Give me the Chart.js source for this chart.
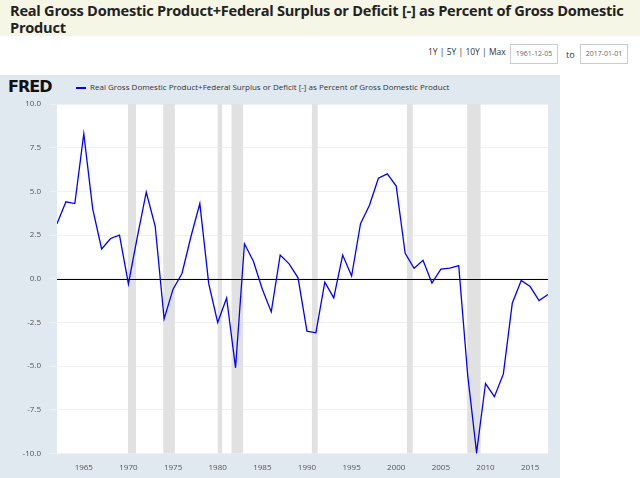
<!DOCTYPE html>
<html><head><meta charset="utf-8">
<script src="https://cdn.jsdelivr.net/npm/chart.js@4"></script>
<style>
body{margin:0;width:640px;height:478px;overflow:hidden;font-family:"Open Sans",sans-serif;background:#fff;position:relative}
#head{position:absolute;left:0;top:0;width:640px;height:36px;background:#f6f6e6}
#title{position:absolute;left:10px;top:2px;width:630px;font-size:14.6px;font-weight:bold;line-height:17px;color:#222;letter-spacing:-0.25px}
#ctl{position:absolute;top:46px;left:428px;font-size:8.5px;color:#333}
.date{position:absolute;top:44px;width:46px;height:18px;border:1px solid #ccc;font-size:7px;color:#666;text-align:center;line-height:18px}
#box{position:absolute;left:0;top:75px;width:560px;height:403px;background:#e1e9f0}
#logo{position:absolute;left:8px;top:77px;font:900 16px "DejaVu Sans",sans-serif;color:#111;letter-spacing:-1px}
#leg{position:absolute;left:76px;top:81px;font-size:8px;color:#333}
#leg span{display:inline-block;width:10px;border-top:2px solid #00f;vertical-align:middle;margin-right:4px}
canvas{position:absolute;left:0;top:75px}
</style></head><body>
<div id="head"><div id="title">Real Gross Domestic Product+Federal Surplus or Deficit [-] as Percent of Gross Domestic Product</div></div>
<div id="ctl">1Y | 5Y | 10Y | Max</div>
<div class="date" style="left:510px">1961-12-05</div>
<div style="position:absolute;left:566px;top:48px;font-size:9px;color:#333">to</div>
<div class="date" style="left:580px">2017-01-01</div>
<div id="box"></div>
<div id="logo">FRED</div>
<div id="leg"><span></span>Real Gross Domestic Product+Federal Surplus or Deficit [-] as Percent of Gross Domestic Product</div>
<canvas id="c" width="560" height="403"></canvas>
<script>
const years = [1962,1963,1964,1965,1966,1967,1968,1969,1970,1971,1972,1973,1974,1975,1976,1977,1978,1979,1980,1981,1982,1983,1984,1985,1986,1987,1988,1989,1990,1991,1992,1993,1994,1995,1996,1997,1998,1999,2000,2001,2002,2003,2004,2005,2006,2007,2008,2009,2010,2011,2012,2013,2014,2015,2016,2017];
const values = [3.15,4.4,4.3,8.3,4.0,1.7,2.3,2.5,-0.3,2.4,4.95,3.0,-2.3,-0.6,0.3,2.4,4.3,-0.3,-2.5,-1.1,-5.1,2.0,1.0,-0.6,-1.9,1.35,0.85,0.05,-3.0,-3.1,-0.2,-1.1,1.35,0.15,3.15,4.2,5.75,6.0,5.3,1.45,0.6,1.05,-0.25,0.55,0.6,0.75,-5.5,-9.95,-6.0,-6.75,-5.45,-1.4,-0.1,-0.45,-1.25,-0.9];
const recStart = [1969.95,1973.9,1980.0,1981.55,1990.55,2001.2,2007.95];
const recEnd = [1970.85,1975.2,1980.5,1982.85,1991.2,2001.85,2009.45];
const yTicks = [-10,-7.5,-5,-2.5,0,2.5,5,7.5,10];

const bg = {id:'bg',beforeDatasetsDraw(ch){
  const {ctx,chartArea:a,scales:{x,y}}=ch;
  ctx.save();
  ctx.fillStyle='#e1e1e1';
  recStart.forEach((s,i)=>{const x0=x.getPixelForValue(s),x1=x.getPixelForValue(recEnd[i]);ctx.fillRect(x0,a.top,x1-x0,a.bottom-a.top);});
  ctx.strokeStyle='#000';ctx.lineWidth=1;
  const z=Math.round(y.getPixelForValue(0))+0.5;
  ctx.beginPath();ctx.moveTo(a.left,z);ctx.lineTo(a.right,z);ctx.stroke();
  ctx.restore();
},beforeDraw(ch){const {ctx,chartArea:a}=ch;ctx.save();ctx.fillStyle='#fff';ctx.fillRect(a.left,a.top,a.right-a.left,a.bottom-a.top);ctx.restore();}};

new Chart(document.getElementById('c'),{
  type:'line',
  data:{datasets:[{data:years.map((y,i)=>({x:y,y:values[i]})),borderColor:'#0000ff',borderWidth:1.3,pointRadius:0,tension:0}]},
  options:{responsive:false,animation:false,
    layout:{padding:{left:0,right:12,top:29,bottom:3}},
    plugins:{legend:{display:false},tooltip:{enabled:false}},
    scales:{
      x:{type:'linear',min:1962,max:2017,grid:{display:false},border:{display:false},
        afterBuildTicks(s){s.ticks=[1965,1970,1975,1980,1985,1990,1995,2000,2005,2010,2015].map(v=>({value:v}));},
        ticks:{color:'#555',font:{size:8,family:'Open Sans'},maxRotation:0,padding:2,callback:v=>String(v)}},
      y:{min:-10,max:10,afterFit(s){s.width=57;},grid:{color:'#f0f0f0'},border:{display:false},
        afterBuildTicks(s){s.ticks=yTicks.map(v=>({value:v}));},
        ticks:{color:'#555',font:{size:8,family:'Open Sans'},padding:8,callback:v=>v.toFixed(1)}}
    }},
  plugins:[bg]
});
</script>
</body></html>
